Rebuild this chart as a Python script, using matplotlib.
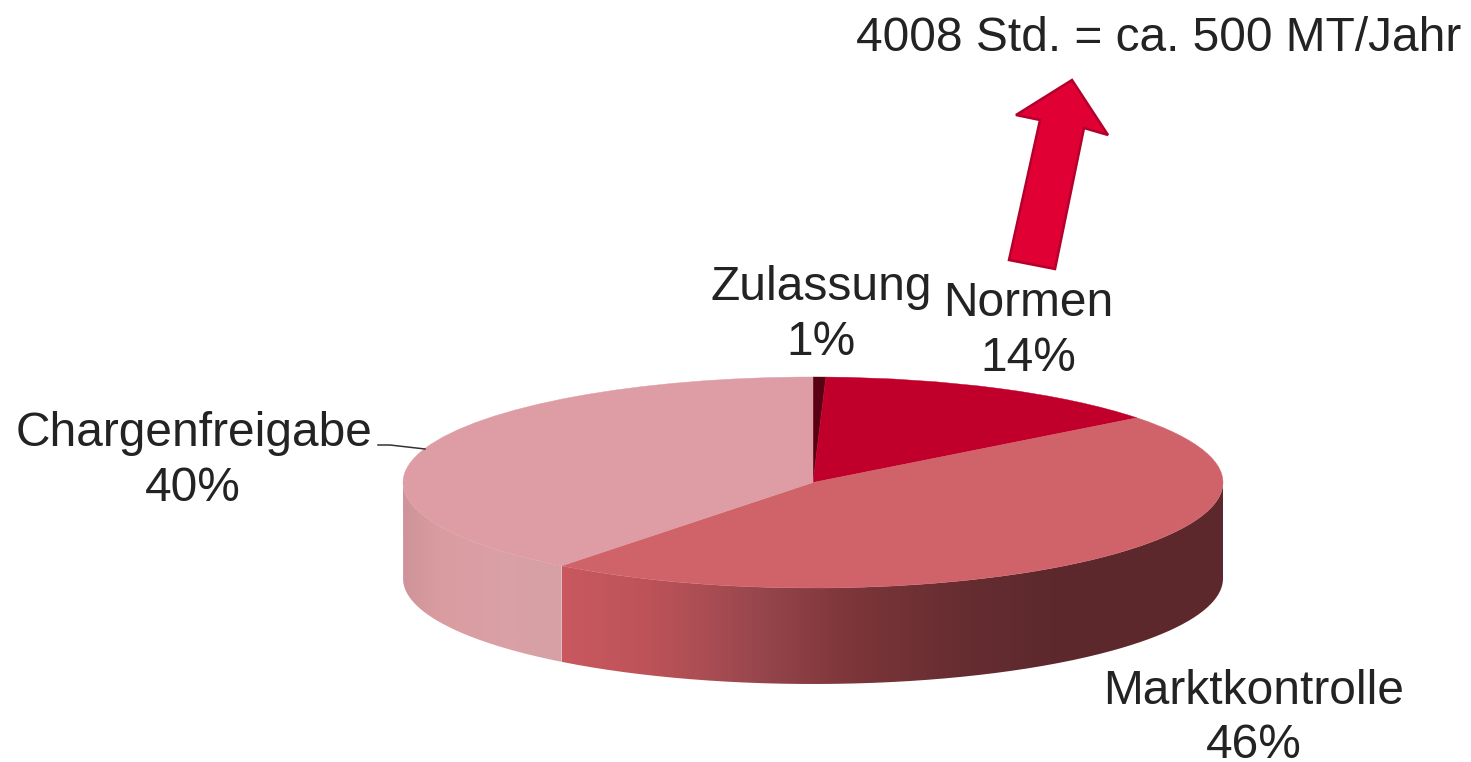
import numpy as np
import matplotlib
matplotlib.use("Agg")
import matplotlib.pyplot as plt
from matplotlib.patches import Polygon, PathPatch
from matplotlib.path import Path

# Data
categories = ["Zulassung", "Normen", "Marktkontrolle", "Chargenfreigabe"]
drawn_shares = [0.5, 14, 46, 39.5]          # slice size as drawn
printed_labels = ["1%", "14%", "46%", "40%"]
top_colors = ["#5a0014", "#c0002a", "#d0626a", "#de9ca4"]
headline = "4008 Std. = ca. 500 MT/Jahr"

W, H = 1471, 762
CX, CY, RX, RY, DEPTH = 813, 482.5, 410, 105.5, 96
FONT = "Liberation Sans"
TEXT = "#232323"
FS = 34.5

fig = plt.figure(figsize=(W / 100, H / 100), dpi=100, facecolor="white")
ax = fig.add_axes([0, 0, 1, 1])
wedges, _ = ax.pie(drawn_shares, colors=top_colors, startangle=90, counterclock=False,
                   radius=1, wedgeprops=dict(linewidth=0.3), normalize=True)
for w, c in zip(wedges, top_colors):
    w.set_edgecolor(c)
    w.set_zorder(5)
ax.set_aspect("auto")
xlim = ((0 - CX) / RX, (W - CX) / RX)
ylim = ((CY - H) / RY, CY / RY)
ax.set_xlim(*xlim)
ax.set_ylim(*ylim)
ax.axis("off")


def px(x, y):
    return (x - CX) / RX, (CY - y) / RY


d = DEPTH / RY
shares = np.array(drawn_shares, float)
edges = np.concatenate([[0], np.cumsum(shares)]) / shares.sum() * 2 * np.pi


def side(t0, t1, stops_x, stops_rgb, z):
    t0, t1 = max(t0, np.pi / 2), min(t1, 1.5 * np.pi)
    if t1 <= t0:
        return
    t = np.linspace(t0, t1, 200)
    xs, ys = np.sin(t), np.cos(t)
    verts = np.vstack([np.c_[xs, ys], np.c_[xs[::-1], ys[::-1] - d], [[xs[0], ys[0]]]])
    clip = PathPatch(Path(verts), transform=ax.transData, fc="none", ec="none")
    ax.add_patch(clip)
    grid = np.linspace(xs.min(), xs.max(), 500)
    gx = CX + grid * RX
    rgb = np.stack([np.interp(gx, stops_x, [c[k] for c in stops_rgb]) for k in range(3)], axis=-1) / 255
    im = ax.imshow(rgb[np.newaxis, :, :], extent=(grid[0], grid[-1], -1 - d, 1),
                   aspect="auto", origin="lower", zorder=z, interpolation="bilinear")
    im.set_clip_path(clip)


side(edges[2], edges[3],
     [563, 640, 700, 760, 850, 950, 1050, 1223],
     [(201, 88, 95), (190, 84, 90), (172, 78, 84), (150, 70, 76), (125, 54, 58),
      (104, 46, 50), (93, 41, 45), (92, 40, 44)], 2)
side(edges[3], edges[4],
     [403, 440, 500, 563],
     [(206, 148, 152), (217, 156, 161), (218, 160, 165), (214, 160, 165)], 2)
ax.set_xlim(*xlim)
ax.set_ylim(*ylim)

# Arrow
arrow_px = [(1072, 80), (1108, 135), (1084, 128), (1055, 269), (1009, 260), (1040, 120), (1016, 115)]
ax.add_patch(Polygon([px(*p) for p in arrow_px], closed=True, fc="#e00034", ec="#b4002c",
                     lw=1.8, zorder=6))

# Leader line
ax.plot(*zip(px(378, 445), px(390, 445), px(425, 449)), color="#333333", lw=1.1, zorder=6)


def label(x, y, s):
    ax.text(*px(x, y), s, ha="center", va="baseline", fontsize=FS, family=FONT, color=TEXT, zorder=7)


label(821, 300, categories[0]); label(821, 355, printed_labels[0])
label(1028, 316, categories[1]); label(1028, 371, printed_labels[1])
label(1254, 704, categories[2]); label(1254, 758, printed_labels[2])
label(194, 446, categories[3]); label(193, 501, printed_labels[3])
label(1159, 51, headline)

fig.savefig("out.png", dpi=100, facecolor="white")
